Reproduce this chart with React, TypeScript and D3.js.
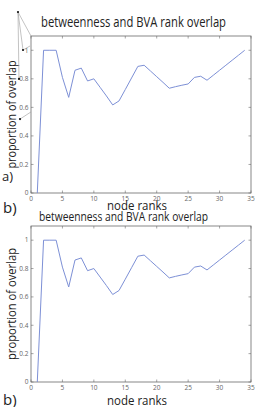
import React from "react";
import * as d3 from "d3";

// node ranks and overlap values
const ranks = [1, 2, 3, 4, 5, 6, 7, 8, 9, 10, 11, 12, 13, 14, 15, 16, 17, 18, 19, 20, 21, 22, 23, 24, 25, 26, 27, 28, 29, 30, 31, 32, 33, 34];
const overlap = [0, 1, 1, 1, 0.81, 0.67, 0.86, 0.875, 0.785, 0.8, 0.74, 0.68, 0.617, 0.645, 0.725, 0.806, 0.887, 0.895, 0.855, 0.815, 0.775, 0.734, 0.745, 0.755, 0.764, 0.81, 0.818, 0.79, 0.825, 0.86, 0.895, 0.93, 0.965, 1.0];

const xTicks = [0, 5, 10, 15, 20, 25, 30, 35];
const yTicks = [0, 0.2, 0.4, 0.6, 0.8, 1];

const titleText = "betweenness and BVA rank overlap";
const xLabel = "node ranks";
const yLabel = "proportion of overlap";

// stray annotation marks left over on the first panel (in data units of that panel)
const strayLines: [number, number, number, number][] = [
  [-2.07, 1.268, 0, 1.1],
  [-2.07, 1.268, -1.27, 1.002],
  [-2.07, 1.268, -1.91, 0.799],
  [-1.27, 1.002, -0.16, 1.03],
  [-1.75, 0.518, 0, 0.568],
];
const strayDots: [number, number][] = [
  [-2.07, 1.268],
  [-1.27, 1.002],
  [-1.91, 0.799],
  [-1.75, 0.518],
];

const FONT = "'Open Sans', sans-serif";
const LINE = "#7d90d6";
const AXIS = "#6a6a6a";

interface PanelProps {
  top: number;
  bottom: number;
  titleY: number;
  titleX: number;
  titleW: number;
  titleSize: number;
  labelY: number;
  yLabelLen: number;
  stray?: boolean;
}

const Panel: React.FC<PanelProps> = ({ top, bottom, titleY, titleX, titleW, titleSize, labelY, yLabelLen, stray }) => {
  const left = 31;
  const right = 251;
  const x = d3.scaleLinear().domain([0, 35]).range([left, right]);
  const y = d3.scaleLinear().domain([0, 1.1]).range([bottom, top]);
  const line = d3
    .line<number>()
    .x((_d, i) => x(ranks[i]))
    .y((d) => y(d));
  const tk = 2.5;

  return (
    <g>
      <text x={titleX} y={titleY} fontFamily={FONT} fontSize={titleSize} fill="#222" textLength={titleW} lengthAdjust="spacingAndGlyphs">
        {titleText}
      </text>
      <rect x={left} y={top} width={right - left} height={bottom - top} fill="none" stroke={AXIS} strokeWidth={0.8} />
      {xTicks.map((t) => (
        <g key={"x" + t}>
          <line x1={x(t)} x2={x(t)} y1={bottom} y2={bottom - tk} stroke={AXIS} strokeWidth={0.6} />
          <line x1={x(t)} x2={x(t)} y1={top} y2={top + tk} stroke={AXIS} strokeWidth={0.6} />
          <text x={x(t)} y={bottom + 8} textAnchor="middle" fontFamily={FONT} fontSize={6.5} fill="#666">
            {t}
          </text>
        </g>
      ))}
      {yTicks.map((t) => (
        <g key={"y" + t}>
          <line x1={left} x2={left + tk} y1={y(t)} y2={y(t)} stroke={AXIS} strokeWidth={0.6} />
          <line x1={right} x2={right - tk} y1={y(t)} y2={y(t)} stroke={AXIS} strokeWidth={0.6} />
          <text x={left - 2.5} y={y(t) + 2.3} textAnchor="end" fontFamily={FONT} fontSize={6.5} fill="#666">
            {t}
          </text>
        </g>
      ))}
      <path d={line(overlap) ?? ""} fill="none" stroke={LINE} strokeWidth={1} />
      <text
        transform={`translate(16, ${(top + bottom) / 2}) rotate(-90)`}
        textAnchor="middle"
        fontFamily={FONT}
        fontSize={13}
        fill="#222"
        textLength={yLabelLen}
        lengthAdjust="spacingAndGlyphs"
      >
        {yLabel}
      </text>
      <text x={107} y={labelY} fontFamily={FONT} fontSize={13} fill="#222" textLength={60} lengthAdjust="spacingAndGlyphs">
        {xLabel}
      </text>
      {stray && (
        <g>
          {strayLines.map((s, i) => (
            <line key={"s" + i} x1={x(s[0])} y1={y(s[1])} x2={x(s[2])} y2={y(s[3])} stroke="#9a9a9a" strokeWidth={0.6} />
          ))}
          {strayDots.map((p, i) => (
            <circle key={"d" + i} cx={x(p[0])} cy={y(p[1])} r={1.1} fill="#111" />
          ))}
        </g>
      )}
    </g>
  );
};

const App: React.FC = () => {
  return (
    <svg width={258} height={407} style={{ position: "absolute", left: 0, top: 0, background: "#fff" }}>
      <Panel top={36} bottom={193} titleY={27} titleX={41} titleW={185} titleSize={14} labelY={210} yLabelLen={108} stray />
      <Panel top={226} bottom={382} titleY={221} titleX={39} titleW={169} titleSize={13} labelY={405} yLabelLen={112} />
      <text x={2} y={181} fontFamily={FONT} fontSize={13} fill="#222">
        a)
      </text>
      <text x={3} y={213} fontFamily={FONT} fontSize={15} fill="#222">
        b)
      </text>
      <text x={3} y={405} fontFamily={FONT} fontSize={15} fill="#222">
        b)
      </text>
    </svg>
  );
};

export default App;
